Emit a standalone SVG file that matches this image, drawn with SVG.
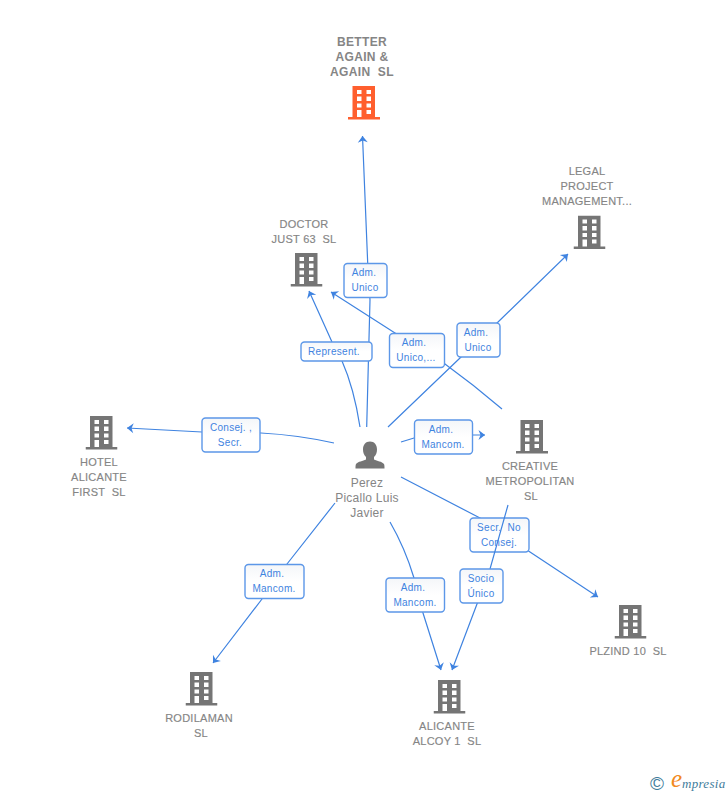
<svg xmlns="http://www.w3.org/2000/svg" xmlns:xlink="http://www.w3.org/1999/xlink" width="728" height="795" viewBox="0 0 728 795">
<style>
text{font-family:"Liberation Sans",Arial,sans-serif}
.n{font-size:11px;fill:#858585;text-anchor:middle;stroke:#858585;stroke-width:.15;letter-spacing:.25px}
.nb{font-size:12px;fill:#858585;text-anchor:middle;font-weight:bold;letter-spacing:.35px}
.p{font-size:12px;fill:#858585;text-anchor:middle;letter-spacing:.25px}
.c{fill:none;stroke:#3f83e0;stroke-width:1.2}
.a{marker-end:url(#arr)}
.b{fill:url(#lb);stroke:#5c97e8;stroke-width:1.4}
.t{font-size:10px;fill:#3f83e0;text-anchor:middle;letter-spacing:.3px}
</style>
<defs>
<linearGradient id="lb" x1="0" y1="0" x2="0" y2="1"><stop offset="0" stop-color="#f4f6f9"/><stop offset=".5" stop-color="#fff"/></linearGradient>
<marker id="arr" markerUnits="userSpaceOnUse" markerWidth="12" markerHeight="12" refX="10" refY="6" orient="auto"><path d="M3.500,1 L10,6 L3.500,11 L5.500,6 Z" fill="#3f83e0"/></marker>
<symbol id="bld" width="32" height="34" viewBox="0 0 32 34">
<path fill-rule="evenodd" d="M4.500,0H27V31H32V33.400H0V31H4.500ZM9,4V8H13.500V4ZM18.500,4V8H23V4ZM9,10.500V15H13.500V10.500ZM18.500,10.500V15H23V10.500ZM9,17.500V21.500H13.500V17.500ZM18.500,17.500V21.500H23V17.500ZM9,24V31H13.500V24ZM18.500,24V28H23V24Z"/>
</symbol>
</defs>
<g id="connectors">
<path class="c a" d="M366.700,427L370,300L367.700,263L362.500,136"/>
<path class="c a" d="M360,427Q354,388 342,361L332,342L309,291"/>
<path class="c a" d="M502,409Q474,385 445,364L395,333L331,292"/>
<path class="c a" d="M388,427L460,358L497,323L568,254"/>
<path class="c a" d="M334,443Q298,435 261,433L202,432L127,428"/>
<path class="c a" d="M401,442L414,438L473,435L485,435"/>
<path class="c a" d="M401,477L480,518L530,552L598,597"/>
<path class="c a" d="M390,522Q405,548 414,578L423,613L441,670"/>
<path class="c a" d="M335,503L287,564L262,599L213,663"/>
</g>
<g id="edge-labels">
<g><rect class="b" x="344" y="263.500" width="43" height="34" rx="3.500"/><text class="t" x="364" y="276">Adm.</text><text class="t" x="365" y="291">Unico</text></g>
<g><rect class="b" x="301" y="342" width="71" height="19" rx="3.500"/><text class="t" x="334" y="355">Represent.</text></g>
<g><rect class="b" x="389.500" y="333.500" width="55" height="34" rx="3.500"/><text class="t" x="414" y="346">Adm.</text><text class="t" x="416" y="361">Unico,...</text></g>
<g><rect class="b" x="457" y="323" width="43" height="34" rx="3.500"/><text class="t" x="476" y="336">Adm.</text><text class="t" x="478" y="351">Unico</text></g>
<g><rect class="b" x="202" y="418" width="58" height="34" rx="3.500"/><text class="t" x="231" y="431">Consej. ,</text><text class="t" x="230" y="446">Secr.</text></g>
<g><rect class="b" x="414.500" y="420" width="58" height="34" rx="3.500"/><text class="t" x="441" y="433">Adm.</text><text class="t" x="443" y="448">Mancom.</text></g>
<g><rect class="b" x="470" y="518" width="59" height="34" rx="3.500"/><text class="t" x="499" y="531" xml:space="preserve">Secr.  No</text><text class="t" x="499" y="546">Consej.</text></g>
</g>
<g id="connectors-over">
<path class="c a" d="M508,505L490,569L477,604L452,670"/>
</g>
<g id="edge-labels-over">
<g><rect class="b" x="460" y="569" width="43" height="34" rx="3.500"/><text class="t" x="481" y="582">Socio</text><text class="t" x="481" y="597">Único</text></g>
<g><rect class="b" x="386" y="578" width="58.500" height="34" rx="3.500"/><text class="t" x="413" y="591">Adm.</text><text class="t" x="415" y="606">Mancom.</text></g>
<g><rect class="b" x="245" y="564.500" width="59" height="34" rx="3.500"/><text class="t" x="272" y="577">Adm.</text><text class="t" x="274" y="592">Mancom.</text></g>
</g>
<g id="better-again"><use xlink:href="#bld" href="#bld" x="348" y="86" fill="#ff5f2e"/>
<text class="nb" x="362" y="46">BETTER</text><text class="nb" x="362" y="61">AGAIN &amp;</text><text class="nb" x="362" y="76" xml:space="preserve">AGAIN  SL</text></g>
<g id="doctor-just"><use xlink:href="#bld" href="#bld" x="290.500" y="253" fill="#757575"/>
<text class="n" x="304" y="228">DOCTOR</text><text class="n" x="304" y="243" xml:space="preserve">JUST 63  SL</text></g>
<g id="legal-project"><use xlink:href="#bld" href="#bld" x="573.500" y="215.500" fill="#757575"/>
<text class="n" x="587" y="175">LEGAL</text><text class="n" x="587" y="190">PROJECT</text><text class="n" x="587" y="205">MANAGEMENT...</text></g>
<g id="hotel-alicante"><use xlink:href="#bld" href="#bld" x="85.500" y="416" fill="#757575"/>
<text class="n" x="99" y="466">HOTEL</text><text class="n" x="99" y="481">ALICANTE</text><text class="n" x="99" y="496" xml:space="preserve">FIRST  SL</text></g>
<g id="creative-metropolitan"><use xlink:href="#bld" href="#bld" x="516" y="420" fill="#757575"/>
<text class="n" x="530" y="470">CREATIVE</text><text class="n" x="530" y="485">METROPOLITAN</text><text class="n" x="531" y="500">SL</text></g>
<g id="plzind"><use xlink:href="#bld" href="#bld" x="614.500" y="605" fill="#757575"/>
<text class="n" x="628" y="655" xml:space="preserve">PLZIND 10  SL</text></g>
<g id="rodilaman"><use xlink:href="#bld" href="#bld" x="185.500" y="672" fill="#757575"/>
<text class="n" x="199" y="722">RODILAMAN</text><text class="n" x="201" y="737">SL</text></g>
<g id="alicante-alcoy"><use xlink:href="#bld" href="#bld" x="433.500" y="680" fill="#757575"/>
<text class="n" x="447" y="730">ALICANTE</text><text class="n" x="447" y="745" xml:space="preserve">ALCOY 1  SL</text></g>
<g id="perez"><path fill="#757575" d="M370,441.500c4.500,0 7,3.500 7,8c0,3 -1,5.500 -3,7.500v2.500c3,1.500 8,2 10,4.500c.5,1 .5,3 .5,4.500h-29c0,-1.500 0,-3.500 .5,-4.500c2,-2.500 7,-3 10,-4.500v-2.500c-2,-2 -3,-4.500 -3,-7.500c0,-4.500 2.500,-8 7,-8Z"/>
<text class="p" x="367" y="487">Perez</text><text class="p" x="367" y="502">Picallo Luis</text><text class="p" x="367" y="517">Javier</text></g>
<g id="logo">
<text x="650" y="790" font-size="19" fill="#3f7d9c">©</text>
<text x="671" y="787" font-size="25" fill="#f28a1e" font-style="italic" style="font-family:'Liberation Serif',serif">e</text>
<text x="682" y="788" font-size="13" fill="#3f7d9c" font-style="italic" letter-spacing=".3" style="font-family:'Liberation Serif',serif">mpresia</text>
</g>
</svg>
